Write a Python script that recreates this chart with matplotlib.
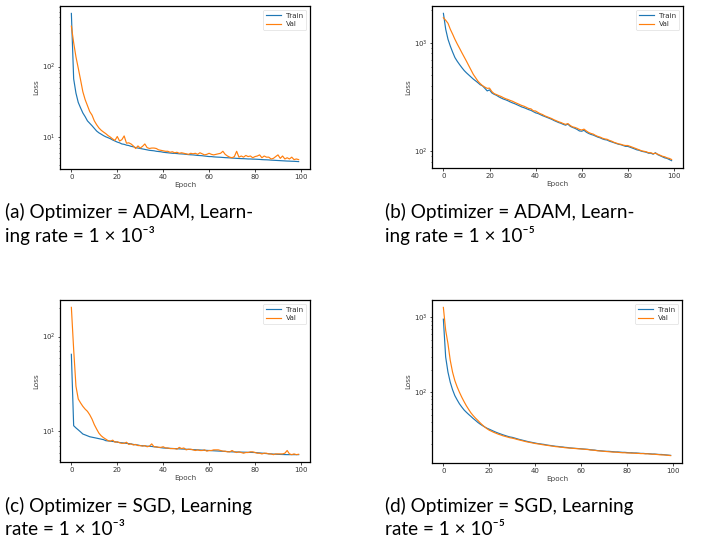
import numpy as np
import matplotlib
matplotlib.use("Agg")
import matplotlib.pyplot as plt

epochs = np.arange(100)

# (a) ADAM, lr 1e-3
adam3_train = [566, 67, 42, 31, 26, 22, 19.5, 17, 15.7, 14.5,
               13.3, 12.2, 11.5, 11.0, 10.5, 10.1, 9.8, 9.5, 9.1, 8.8,
               8.5, 8.3, 8.0, 7.9, 7.7, 7.6, 7.4, 7.3, 7.1, 7.0,
               6.9, 6.8, 6.7, 6.6, 6.5, 6.45, 6.4, 6.3, 6.25, 6.2,
               6.1, 6.05, 6.0, 5.95, 5.9, 5.88, 5.85, 5.8, 5.78, 5.75,
               5.7, 5.65, 5.62, 5.6, 5.55, 5.5, 5.48, 5.45, 5.4, 5.35,
               5.3, 5.3, 5.25, 5.22, 5.2, 5.18, 5.15, 5.12, 5.1, 5.08,
               5.05, 5.03, 5.0, 4.98, 4.96, 4.95, 4.93, 4.9, 4.9, 4.88,
               4.87, 4.85, 4.83, 4.8, 4.78, 4.77, 4.75, 4.72, 4.7, 4.68,
               4.66, 4.64, 4.62, 4.6, 4.58, 4.57, 4.55, 4.54, 4.52, 4.5]
adam3_val = [373, 218, 137, 95, 65, 44, 34, 28, 23, 20.5,
             17, 15, 13.5, 12.5, 11.8, 11.2, 10.5, 10.0, 9.4, 9.0,
             10.2, 8.8, 9.2, 10.4, 8.2, 8.3, 8.0, 7.5, 6.9, 7.5,
             7.0, 7.4, 8.0, 7.1, 6.9, 7.0, 7.0, 6.9, 6.6, 6.5,
             6.4, 6.3, 6.3, 6.1, 6.2, 6.0, 6.1, 5.9, 6.0, 5.9,
             5.8, 5.7, 5.9, 5.8, 5.9, 5.7, 6.0, 5.8, 5.6, 5.7,
             5.9, 5.7, 5.6, 5.7, 5.8, 5.9, 6.3, 5.7, 5.4, 5.2,
             5.1, 5.3, 6.3, 5.2, 5.4, 5.2, 5.5, 5.3, 5.4, 5.1,
             5.3, 5.4, 5.6, 5.1, 5.4, 5.2, 5.2, 4.9, 5.0, 5.3,
             5.6, 5.0, 5.4, 4.9, 5.1, 4.9, 5.2, 4.8, 4.9, 4.8]

# (b) ADAM, lr 1e-5
adam5_train = [1865, 1330, 1075, 930, 820, 730, 675, 630, 590, 555,
               528, 505, 483, 462, 445, 428, 410, 400, 380, 360,
               368, 345, 335, 328, 318, 310, 303, 298, 292, 285,
               279, 274, 268, 262, 256, 252, 247, 242, 238, 232,
               226, 223, 218, 213, 209, 205, 201, 197, 192, 188,
               184, 181, 177, 174, 178, 170, 166, 163, 159, 154,
               153, 156, 150, 146, 143, 141, 138, 135, 133, 130,
               128, 127, 124, 122, 120, 118, 116, 115, 113, 111,
               111, 109, 107, 105, 103, 102, 100, 99, 98, 96,
               96, 94, 97, 93, 91, 89, 87, 86, 84, 82]
adam5_val = [1700, 1610, 1510, 1330, 1200, 1075, 975, 890, 810, 740,
             676, 615, 560, 510, 475, 442, 420, 402, 390, 380,
             382, 355, 340, 333, 326, 320, 312, 305, 300, 294,
             289, 282, 276, 270, 264, 260, 254, 248, 246, 236,
             235, 228, 222, 218, 212, 208, 204, 200, 195, 191,
             187, 184, 180, 177, 180, 173, 168, 166, 163, 159,
             157, 160, 154, 149, 146, 144, 140, 137, 135, 132,
             130, 129, 126, 124, 121, 119, 117, 116, 114, 113,
             113, 111, 109, 107, 105, 103, 101, 100, 99, 97,
             97, 95, 96, 94, 92, 90, 89, 87, 86, 84]

# (c) SGD, lr 1e-3
sgd3_train = [65, 11.5, 10.9, 10.4, 9.9, 9.4, 9.2, 9.0, 8.8, 8.7,
              8.6, 8.5, 8.4, 8.3, 8.2, 8.0, 7.95, 7.9, 7.85, 7.8,
              7.7, 7.65, 7.6, 7.55, 7.5, 7.45, 7.4, 7.3, 7.25, 7.2,
              7.1, 7.08, 7.05, 7.0, 6.98, 6.95, 6.9, 6.85, 6.8, 6.75,
              6.7, 6.68, 6.66, 6.64, 6.62, 6.6, 6.58, 6.56, 6.54, 6.52,
              6.5, 6.48, 6.46, 6.44, 6.42, 6.4, 6.38, 6.36, 6.34, 6.32,
              6.3, 6.28, 6.26, 6.24, 6.22, 6.2, 6.18, 6.16, 6.14, 6.12,
              6.1, 6.09, 6.08, 6.07, 6.06, 6.05, 6.04, 6.03, 6.02, 6.01,
              6.0, 5.97, 5.94, 5.91, 5.88, 5.85, 5.82, 5.8, 5.78, 5.76,
              5.74, 5.73, 5.72, 5.71, 5.7, 5.7, 5.7, 5.7, 5.7, 5.7]
sgd3_val = [203, 73, 30, 22, 20, 18.4, 17.2, 16.3, 15, 13.5,
            11.8, 10.6, 9.6, 9.0, 8.6, 8.3, 8.0, 7.9, 8.1, 7.7,
            7.8, 7.6, 7.5, 7.5, 7.7, 7.3, 7.4, 7.2, 7.3, 7.1,
            7.1, 7.0, 7.1, 6.9, 7.0, 7.4, 6.9, 6.9, 6.8, 6.8,
            6.9, 6.7, 6.7, 6.6, 6.6, 6.6, 6.5, 6.8, 6.6, 6.7,
            6.4, 6.5, 6.5, 6.4, 6.3, 6.4, 6.3, 6.3, 6.4, 6.2,
            6.3, 6.3, 6.4, 6.4, 6.4, 6.3, 6.2, 6.2, 6.1, 6.1,
            6.3, 6.1, 6.0, 6.1, 6.0, 5.9, 6.0, 6.0, 6.1, 6.1,
            6.0, 5.9, 5.9, 5.8, 5.9, 5.9, 5.8, 5.8, 5.7, 5.8,
            5.8, 5.8, 5.8, 5.9, 6.3, 5.8, 5.7, 5.8, 5.7, 5.75]

# (d) SGD, lr 1e-5
sgd5_train = [949, 296, 186, 136, 108, 90, 79, 70, 63.5, 58,
              54, 50.5, 47.5, 44.5, 42, 39.5, 37.5, 35.8, 34.3, 33,
              32, 31, 30, 29.1, 28.3, 27.6, 26.9, 26.3, 25.7, 25.2,
              24.9, 24.4, 23.9, 23.4, 23, 22.6, 22.2, 21.8, 21.5, 21.2,
              20.9, 20.6, 20.4, 20.2, 20, 19.7, 19.5, 19.3, 19.1, 18.9,
              18.8, 18.6, 18.5, 18.3, 18.2, 18.0, 17.9, 17.8, 17.7, 17.6,
              17.5, 17.4, 17.3, 17.2, 17.0, 16.9, 16.8, 16.6, 16.5, 16.4,
              16.3, 16.2, 16.2, 16.1, 16.0, 15.9, 15.9, 15.8, 15.7, 15.7,
              15.6, 15.5, 15.5, 15.4, 15.4, 15.3, 15.2, 15.2, 15.1, 15.1,
              15.0, 14.9, 14.9, 14.8, 14.7, 14.7, 14.6, 14.5, 14.4, 14.3]
sgd5_val = [1363, 675, 447, 267, 186, 143, 118, 100, 86, 75,
            66, 59, 53, 48.6, 45, 42, 39, 36.5, 34.3, 32.5,
            31, 30, 29, 28.2, 27.4, 26.8, 26.1, 25.6, 25.1, 24.6,
            24.3, 23.9, 23.4, 23, 22.6, 22.2, 21.8, 21.5, 21.2, 20.9,
            20.6, 20.4, 20.2, 19.9, 19.7, 19.5, 19.3, 19.1, 18.9, 18.7,
            18.6, 18.4, 18.3, 18.1, 18.0, 17.9, 17.8, 17.7, 17.6, 17.5,
            17.4, 17.3, 17.2, 17.1, 16.9, 16.8, 16.7, 16.5, 16.4, 16.3,
            16.2, 16.1, 16.0, 15.9, 15.8, 15.8, 15.7, 15.6, 15.5, 15.5,
            15.4, 15.4, 15.3, 15.3, 15.2, 15.2, 15.1, 15.1, 15.0, 15.0,
            14.9, 14.8, 14.8, 14.7, 14.6, 14.5, 14.5, 14.4, 14.3, 14.2]

captions = [
    ("(a) Optimizer = ADAM, Learn-", "ing rate = 1 \u00d7 10\u207b\u00b3"),
    ("(b) Optimizer = ADAM, Learn-", "ing rate = 1 \u00d7 10\u207b\u2075"),
    ("(c) Optimizer = SGD, Learning", "rate = 1 \u00d7 10\u207b\u00b3"),
    ("(d) Optimizer = SGD, Learning", "rate = 1 \u00d7 10\u207b\u2075"),
]
series = [(adam3_train, adam3_val), (adam5_train, adam5_val),
          (sgd3_train, sgd3_val), (sgd5_train, sgd5_val)]

W, H = 722, 555
fig = plt.figure(figsize=(W / 100, H / 100), dpi=100)

# axes boxes in pixels: left, top, right, bottom
boxes = [(60, 6, 310, 169), (432, 6, 683, 168),
         (60, 300, 310, 462), (432, 300, 682, 463)]
cap_y = [(218, 242), (218, 242), (512, 535), (512, 535)]
cap_x = [5, 385, 5, 385]

for i, (tr, va) in enumerate(series):
    l, t, r, b = boxes[i]
    ax = fig.add_axes([l / W, 1 - b / H, (r - l) / W, (b - t) / H])
    ax.plot(epochs, tr, color="#1f77b4", lw=0.85, label="Train")
    ax.plot(epochs, va, color="#ff7f0e", lw=0.85, label="Val")
    ax.set_yscale("log")
    ax.set_xlabel("Epoch", fontsize=5.2, labelpad=1.8, color="#444444")
    ax.set_ylabel("Loss", fontsize=5.2, labelpad=1.8, color="#444444")
    ax.tick_params(which="major", labelsize=5, length=1.8, width=0.5, pad=1.6,
                   labelcolor="#333333")
    ax.tick_params(which="minor", length=1.0, width=0.4)
    for s in ax.spines.values():
        s.set_linewidth(0.9)
    leg = ax.legend(loc="upper right", fontsize=5.2, borderaxespad=0.5,
                    labelspacing=0.4)
    leg.get_frame().set_linewidth(0.4)
    for txt in leg.get_texts():
        txt.set_color("#333333")

    y1, y2 = cap_y[i]
    fig.text(cap_x[i] / W, 1 - y1 / H, captions[i][0], fontsize=13.6,
             family=["Lato", "DejaVu Sans"], va="baseline")
    fig.text(cap_x[i] / W, 1 - y2 / H, captions[i][1], fontsize=13.6,
             family=["Lato", "DejaVu Sans"], va="baseline")

fig.savefig("out.png", dpi=100)
